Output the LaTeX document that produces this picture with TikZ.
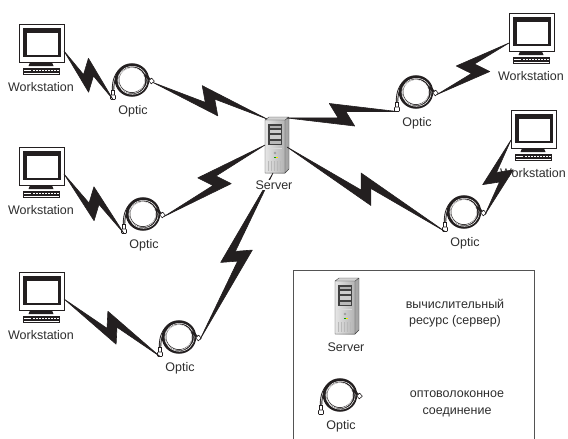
\documentclass[tikz,border=0pt]{standalone}
\usepackage{fontspec}
\setmainfont{Liberation Sans}
\usetikzlibrary{calc}

\definecolor{ink}{RGB}{35,31,32}
\definecolor{txt}{RGB}{45,45,45}

\tikzset{
  lbl/.style={font=\fontsize{12.5}{16.5}\selectfont, text=txt, inner sep=0pt, anchor=center},
  boltfill/.style={fill=ink, draw=ink, line width=0.6pt, line join=round},
  legendframe/.style={draw=gray!65!black, line width=0.8pt},
  plug/.style={draw=ink, fill=white, line width=0.6pt},
}

% desktop computer: monitor case top-left at (#2,#3)
\newcommand\workstation[3]{%
  \begin{scope}[shift={(#2,#3)}]
    \draw[fill=white, draw=ink, line width=0.8pt] (0,0) rectangle (45,38);
    \fill[ink] (3.5,4) rectangle (41.5,33);
    \fill[white] (8,9) rectangle (39,30.5);
    \fill[ink] (11,38.4) -- (33,38.4) -- (34.5,42) -- (9.5,42) -- cycle;
    \fill[ink] (4,43.5) rectangle (41,50.5);
    \fill[white] (5,46) rectangle (12,47.2);
    \foreach \k in {0,...,8} \fill[white] (13.5+3*\k,46) rectangle ++(2,1.4);
    \draw[white, line width=0.4pt] (5,48.8) -- (40,48.8);
    \coordinate (#1-l) at (0,30);
    \coordinate (#1-r) at (45,27);
    \node[lbl] (#1-t) at (22,63) {Workstation};
  \end{scope}}

% coiled fibre patch cord: coil centre at (#2,#3)
\newcommand\optic[3]{%
  \begin{scope}[shift={(#2,#3)}]
    \draw[ink, line width=2.4pt] (-13,-9) .. controls (-19,-2) and (-19,6) .. (-19,11);
    \draw[white, line width=0.5pt] (-13,-9) .. controls (-19,-2) and (-19,6) .. (-19,11);
    \draw[plug] (-20.5,10) rectangle (-17.5,15);
    \draw[plug, rounded corners=0.8pt] (-21.5,15) rectangle (-16.5,19.5);
    \draw[ink, line width=4.5pt] (0,0) ellipse [x radius=15pt, y radius=14.5pt];
    \draw[white, line width=0.5pt] (0.5,0.3) ellipse [x radius=14.6pt, y radius=14pt];
    \draw[white, line width=0.5pt] (-0.3,0.4) ellipse [x radius=13.3pt, y radius=12.8pt];
    \draw[ink, line width=2.2pt] (13,-5) -- (18.5,0);
    \draw[plug, rotate around={40:(19.5,1)}] (17.5,-1) rectangle (21.5,3);
    \coordinate (#1-l) at (-19,19.5);
    \coordinate (#1-r) at (21,2.5);
    \node[lbl] (#1-t) at (1,31) {Optic};
  \end{scope}}

% tower server: front panel top-left at (#2,#3)
\newcommand\server[3]{%
  \begin{scope}[shift={(#2,#3)}]
    \fill[gray!35] (0,3) -- (4,0) -- (24,0) -- (20,3) -- cycle;
    \fill[gray!70] (20,3) -- (24,0) -- (24,52) -- (20,56) -- cycle;
    \shade[left color=gray!20, right color=gray!60] (0,3) rectangle (20,56);
    \draw[gray!50!black, line width=0.4pt, line join=round]
      (0,3) -- (4,0) -- (24,0) -- (24,52) -- (20,56) -- (0,56) -- cycle
      (0,3) -- (20,3) -- (20,56) (20,3) -- (24,0);
    \fill[black!75] (3,7) rectangle (17,28);
    \fill[gray!60] (4.5,8.5) rectangle (15.5,10.5);
    \fill[gray!40] (4.5,12.5) rectangle (15.5,16);
    \fill[gray!40] (4.5,18) rectangle (15.5,21.5);
    \fill[gray!55] (4.5,23.5) rectangle (15.5,26.5);
    \draw[gray!30, line width=0.4pt] (3,31) -- (17,31);
    \fill[gray!75] (10,36) circle (1.3pt);
    \fill[green!60!black] (8.5,39.5) rectangle ++(2,1.6);
    \fill[yellow!85!orange] (10.8,39.5) rectangle ++(2,1.6);
    \foreach \k in {3,6,...,17} \draw[gray!55, line width=0.4pt] (\k,44) -- (\k,54);
    \coordinate (#1-nw) at (2,2);
    \coordinate (#1-ne) at (22,1);
    \coordinate (#1-w) at (0,28);
    \coordinate (#1-e) at (22,30);
    \coordinate (#1-s) at (8,56);
  \end{scope}}

% lightning-bolt link from #2 to #3; #1 = where along it the zigzag sits
\newcommand\boltlink[3][0.5]{%
  \fill[boltfill] let \p1=(#2), \p2=(#3), \n1={atan2(\y2-\y1,\x2-\x1)} in
    (#2) -- ($(#2)!#1!(#3) + ({\n1}:-4pt) + ({\n1-90}:3pt)$)
         -- ($(#2)!#1!(#3) + ({\n1}:-12pt) + ({\n1+90}:12pt)$)
         -- (#3)
         -- ($(#2)!#1!(#3) + ({\n1}:4pt) + ({\n1+90}:3pt)$)
         -- ($(#2)!#1!(#3) + ({\n1}:12pt) + ({\n1-90}:12pt)$)
         -- cycle;}

\begin{document}
\begin{tikzpicture}[x=1pt, y=-1pt]
  \useasboundingbox (0,0) rectangle (568,439);

  % legend frame, open at the bottom
  \draw[legendframe] (293.5,439) -- (293.5,270.5) -- (534.5,270.5) -- (534.5,439);

  % devices
  \workstation{wsa}{19}{24}
  \workstation{wsb}{19}{147}
  \workstation{wsc}{19}{272}
  \workstation{wsd}{509}{13}
  \workstation{wse}{511}{110}

  \optic{opa}{132}{80}
  \optic{opb}{143}{214}
  \optic{opc}{179}{337}
  \optic{opd}{416}{92}
  \optic{ope}{464}{212}

  \server{srv}{265}{117}

  % links
  \boltlink{wsa-r}{opa-l}
  \boltlink{opa-r}{srv-nw}
  \boltlink{srv-ne}{opd-l}
  \boltlink{opd-r}{wsd-l}
  \boltlink{wsb-r}{opb-l}
  \boltlink{opb-r}{srv-w}
  \boltlink{srv-e}{ope-l}
  \boltlink{ope-r}{wse-l}
  \boltlink{wsc-r}{opc-l}
  \boltlink{srv-s}{opc-r}

  \node[lbl, fill=white, inner sep=1pt] (srv-t) at (274,185) {Server};

  % legend entries
  \server{lgs}{335}{278}
  \node[lbl] (lgs-t) at (346,347) {Server};
  \node[lbl, align=center] (lgs-d) at (455,313) {вычислительный\\ресурс (сервер)};

  \optic{lgo}{340}{395}
  \node[lbl, align=center] (lgo-d) at (457,404) {оптоволоконное\\соединение};
\end{tikzpicture}
\end{document}
